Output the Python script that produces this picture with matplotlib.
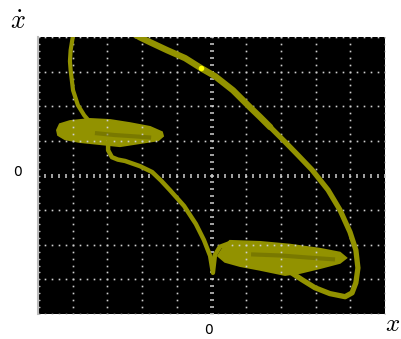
import numpy as np
import matplotlib.pyplot as plt

plt.rcParams["mathtext.fontset"] = "cm"

# trajectory pieces, in screen divisions (x: -5..5, y: -4..4)
top_left_x = [-3.93, -4.00, -4.06, -4.08, -4.06, -3.99, -3.85, -3.67, -3.50]
top_left_y = [4.25, 3.99, 3.62, 3.30, 3.04, 2.46, 2.03, 1.74, 1.54]

blob_left_x = [-4.45, -4.37, -4.08, -3.50, -2.92, -2.35, -1.77, -1.43,
               -1.40, -1.54, -2.06, -2.64, -3.21, -3.79, -4.22, -4.42]
blob_left_y = [1.31, 1.48, 1.57, 1.63, 1.60, 1.51, 1.40, 1.25,
               1.14, 1.02, 0.94, 0.85, 0.91, 0.97, 1.05, 1.17]

cross_x = [-2.98, -2.98, -2.87, -2.70, -2.49, -2.06, -1.71, -1.45, -1.20,
           -0.79, -0.45, -0.22, -0.04, 0.04, 0.10, 0.24, 0.53]
cross_y = [0.97, 0.73, 0.53, 0.46, 0.42, 0.27, 0.10, -0.15, -0.42,
           -0.88, -1.40, -1.86, -2.32, -2.81, -2.29, -2.06, -1.95]

blob_right_x = [0.30, 0.53, 1.40, 2.26, 3.13, 3.70, 3.88, 3.70, 3.13,
                2.55, 2.12, 1.40, 0.82, 0.39, 0.19]
blob_right_y = [-2.15, -1.89, -1.92, -2.00, -2.12, -2.23, -2.38, -2.52, -2.67,
                -2.81, -2.87, -2.72, -2.61, -2.49, -2.32]

arc_low_x = [2.26, 2.61, 2.98, 3.41, 3.85, 4.05, 4.16, 4.22, 4.16, 3.99,
             3.70, 3.36, 2.90, 2.49, 2.12, 1.69]
arc_low_y = [-2.78, -3.01, -3.24, -3.41, -3.50, -3.39, -3.10, -2.67, -2.15,
             -1.63, -0.99, -0.42, 0.16, 0.59, 0.97, 1.40]
arc_top_x = [1.69, 1.40, 1.11, 0.62, 0.10, -0.30, -0.76, -1.28, -1.77,
             -2.06, -2.35]
arc_top_y = [1.40, 1.69, 1.97, 2.46, 2.87, 3.10, 3.39, 3.62, 3.85, 3.99, 4.16]

# darker streaks inside the two scrolls
streak_left_x = [-3.3, -2.8, -2.2, -1.8]
streak_left_y = [1.22, 1.17, 1.13, 1.10]
streak_right_x = [1.2, 2.0, 2.8, 3.5]
streak_right_y = [-2.28, -2.31, -2.37, -2.42]

spot = (-0.30, 3.10)

olive = "#929200"
dark = "#5c5c00"
grid_c = "#cfcfcf"

fig = plt.figure(figsize=(4.01, 3.39), dpi=100)
ax = fig.add_axes([0.0948, 0.0737, 0.8653, 0.8171])
ax.set_facecolor("black")
ax.set_xlim(-5, 5)
ax.set_ylim(-4, 4)
ax.set_xticks([])
ax.set_yticks([])
for s in ["top", "right", "bottom"]:
    ax.spines[s].set_visible(False)
ax.spines["left"].set_color("#bbbbbb")
ax.spines["left"].set_linewidth(1.5)

# oscilloscope graticule
minor_x = np.arange(-5, 5.01, 0.2)
minor_y = np.arange(-4, 4.01, 0.2)
for gy in range(-4, 5):
    if gy == 0:
        continue
    ax.plot(minor_x, np.full_like(minor_x, gy), ls="none", marker="s",
            ms=1.2, color=grid_c, mew=0)
for gx in range(-5, 6):
    if gx == 0:
        continue
    ax.plot(np.full_like(minor_y, gx), minor_y, ls="none", marker="s",
            ms=1.2, color=grid_c, mew=0)
ax.plot(minor_x, np.zeros_like(minor_x), ls="none", marker="|", ms=3.5,
        mew=1.1, color=grid_c)
ax.plot(np.zeros_like(minor_y), minor_y, ls="none", marker="_", ms=3.5,
        mew=1.1, color=grid_c)
ax.plot(np.full_like(minor_y, -5), minor_y, ls="none", marker="_", ms=3.5,
        mew=0.9, color="#bbbbbb")

# trajectory
ax.plot(top_left_x, top_left_y, color=olive, lw=3.0, solid_capstyle="round",
        solid_joinstyle="round")
ax.fill(blob_left_x, blob_left_y, color=olive, lw=1.5, ec=olive)
ax.plot(streak_left_x, streak_left_y, color=dark, lw=3, alpha=0.45)
ax.plot(cross_x, cross_y, color=olive, lw=3.2, solid_capstyle="round",
        solid_joinstyle="round")
ax.fill(blob_right_x, blob_right_y, color=olive, lw=1.5, ec=olive)
ax.plot(streak_right_x, streak_right_y, color=dark, lw=3, alpha=0.45)
ax.plot(arc_low_x, arc_low_y, color=olive, lw=3.8, solid_capstyle="round",
        solid_joinstyle="round")
ax.plot(arc_top_x, arc_top_y, color=olive, lw=4.6, solid_capstyle="round",
        solid_joinstyle="round")
ax.plot(*spot, marker="o", ms=4, color="#ffff00", mew=0)

# labels
fig.text(18 / 401, 1 - 22 / 339, r"$\dot{x}$", fontsize=19, ha="center", va="center")
fig.text(393 / 401, 1 - 324 / 339, r"$x$", fontsize=18, ha="center", va="center")
fig.text(18 / 401, 1 - 172 / 339, "0", fontsize=10, ha="center", va="center")
fig.text(209 / 401, 1 - 330 / 339, "0", fontsize=10, ha="center", va="center")

fig.savefig("out.png", dpi=100)
